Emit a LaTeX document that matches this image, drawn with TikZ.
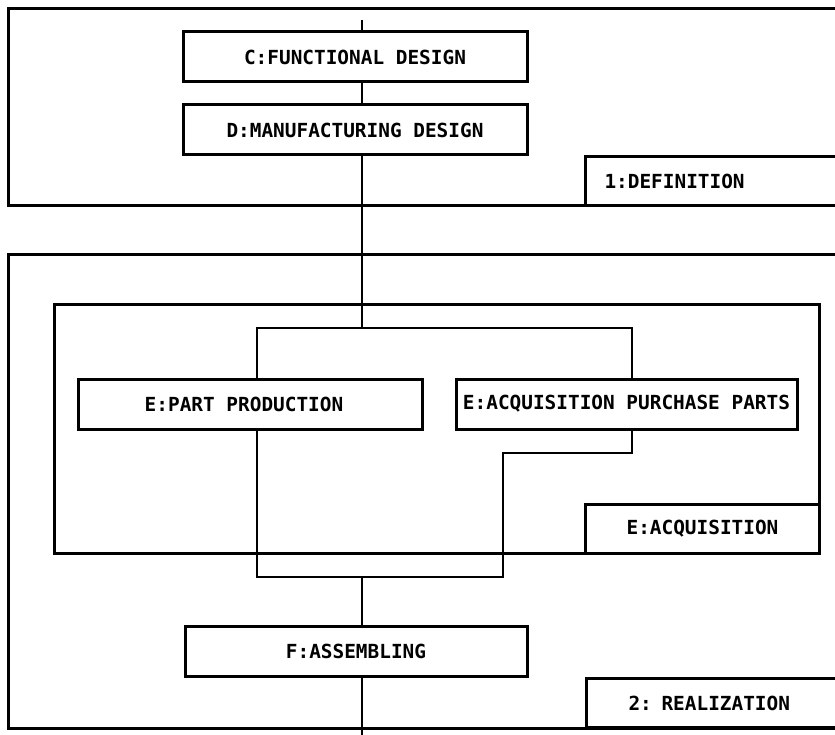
\documentclass[tikz,border=0pt]{standalone}
\usepackage{fontspec}
\setmonofont{DejaVu Sans Mono}
\begin{document}
\begin{tikzpicture}[x=1pt,y=-1pt,
  every node/.style={font=\ttfamily\bfseries\fontsize{19.4}{22}\selectfont},
  frame/.style={draw, line width=3pt, inner sep=0pt, anchor=north west},
  stepbox/.style={draw, line width=3pt, inner sep=0pt, minimum width=344pt, minimum height=50pt},
  tagbox/.style={draw, line width=3pt, anchor=north west, minimum height=49pt, align=left},
  wire/.style={line width=1.4pt}]
\useasboundingbox (0,0) rectangle (835,735);
\clip (0,0) rectangle (835,735);

% phase frames (open to the right)
\node[frame, minimum width=850pt, minimum height=197pt] (definition) at (7,7) {};
\node[frame, minimum width=850pt, minimum height=474pt] (realization) at (7,253) {};
\node[frame, minimum width=765pt, minimum height=249pt] (acquisition) at (53,303) {};

% phase tags
\node[tagbox, text width=228pt, inner xsep=19pt] (tagdef) at (584,155) {1:DEFINITION};
\node[tagbox, text width=192pt, inner xsep=42pt] (tagreal) at (585,677) {2: REALIZATION};
\node[tagbox, minimum width=234pt, inner sep=0pt] (tagacq) at (584,503) {E:ACQUISITION};

% process steps
\node[stepbox] (C) at (355,57) {C:FUNCTIONAL DESIGN};
\node[stepbox] (D) at (355,130) {D:MANUFACTURING DESIGN};
\node[stepbox] (P) at (250,404) {\hspace*{-12pt}E:PART PRODUCTION};
\node[stepbox, minimum width=341pt] (Q) at (626.5,404) {E:ACQUISITION PURCHASE PARTS};
\node[stepbox, minimum width=342pt] (F) at (356,651.5) {F:ASSEMBLING};

% routing points
\coordinate (top) at (362,20);
\coordinate (bottom) at (362,740);
\coordinate (splitL) at (257,328);
\coordinate (splitR) at (632,328);
\coordinate (joinL) at (257,577);
\coordinate (joinR) at (503,577);
\coordinate (stepR) at (503,453);
\coordinate (stepQ) at (632,453);

% connectors
\draw[wire] (top) -- (top |- C.north);
\draw[wire] (top |- C.south) -- (top |- D.north);
\draw[wire] (top |- D.south) -- (top |- splitL);
\draw[wire] (P.north -| splitL) -- (splitL) -- (splitR) -- (Q.north -| splitR);
\draw[wire] (P.south -| splitL) -- (joinL) -- (joinR) -- (stepR) -- (stepQ) -- (Q.south -| stepQ);
\draw[wire] (top |- joinL) -- (top |- F.north);
\draw[wire] (top |- F.south) -- (bottom);
\end{tikzpicture}
\end{document}
